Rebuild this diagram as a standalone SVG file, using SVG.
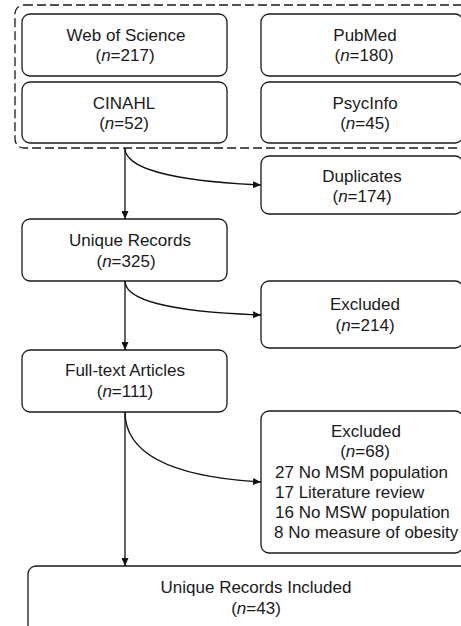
<svg xmlns="http://www.w3.org/2000/svg" width="461" height="626" viewBox="0 0 461 626">
<defs>
<marker id="ah" viewBox="0 0 10 10" refX="10" refY="5" markerWidth="8" markerHeight="7" markerUnits="userSpaceOnUse" orient="auto" preserveAspectRatio="none">
<path d="M0,0 L10,5 L0,10 z" fill="#111"/>
</marker>
<style>
.box{fill:#fff;stroke:#1a1a1a;stroke-width:1.3}
.grp{fill:none;stroke:#1a1a1a;stroke-width:1.3;stroke-dasharray:9,4}
.t{font-family:"Liberation Sans",Arial,sans-serif;font-size:17px;fill:#1a1a1a;text-anchor:middle}
.l{font-family:"Liberation Sans",Arial,sans-serif;font-size:17px;fill:#1a1a1a}
.e{fill:none;stroke:#111;stroke-width:1.3}
</style>
</defs>
<rect width="461" height="626" fill="#fff"/>
<g id="sources">
<rect class="grp" x="15" y="5" width="470" height="143" rx="9"/>
</g>
<g id="wos">
<rect class="box" x="22" y="14" width="205" height="62" rx="8"/>
<text class="t" x="126" y="41">Web of Science</text>
<text class="t" x="125" y="61">(<tspan font-style="italic">n</tspan>=217)</text>
</g>
<g id="pubmed">
<rect class="box" x="261" y="14" width="202" height="62" rx="8"/>
<text class="t" x="365" y="41">PubMed</text>
<text class="t" x="364" y="61">(<tspan font-style="italic">n</tspan>=180)</text>
</g>
<g id="cinahl">
<rect class="box" x="22" y="82" width="205" height="61" rx="8"/>
<text class="t" x="124" y="109">CINAHL</text>
<text class="t" x="124" y="129">(<tspan font-style="italic">n</tspan>=52)</text>
</g>
<g id="psycinfo">
<rect class="box" x="261" y="82" width="202" height="61" rx="8"/>
<text class="t" x="365" y="109">PsycInfo</text>
<text class="t" x="365" y="129">(<tspan font-style="italic">n</tspan>=45)</text>
</g>
<g id="duplicates">
<rect class="box" x="261" y="156" width="202" height="58" rx="8"/>
<text class="t" x="362" y="182">Duplicates</text>
<text class="t" x="362" y="202">(<tspan font-style="italic">n</tspan>=174)</text>
</g>
<g id="unique">
<rect class="box" x="22" y="219" width="205" height="62" rx="8"/>
<text class="t" x="130" y="246">Unique Records</text>
<text class="t" x="126" y="267">(<tspan font-style="italic">n</tspan>=325)</text>
</g>
<g id="excluded1">
<rect class="box" x="261" y="281" width="202" height="67" rx="8"/>
<text class="t" x="365" y="310">Excluded</text>
<text class="t" x="365" y="331">(<tspan font-style="italic">n</tspan>=214)</text>
</g>
<g id="fulltext">
<rect class="box" x="22" y="350" width="205" height="62" rx="8"/>
<text class="t" x="125" y="376">Full-text Articles</text>
<text class="t" x="125" y="397">(<tspan font-style="italic">n</tspan>=111)</text>
</g>
<g id="excluded2">
<rect class="box" x="261" y="411" width="202" height="142" rx="8"/>
<text class="t" x="366" y="437">Excluded</text>
<text class="t" x="365" y="457">(<tspan font-style="italic">n</tspan>=68)</text>
<text class="l" x="275" y="478">27 No MSM population</text>
<text class="l" x="275" y="498">17 Literature review</text>
<text class="l" x="275" y="518">16 No MSW population</text>
<text class="l" x="274" y="538">8 No measure of obesity</text>
</g>
<g id="included">
<rect class="box" x="28" y="566" width="456" height="80" rx="8"/>
<text class="t" x="256" y="593">Unique Records Included</text>
<text class="t" x="256" y="614">(<tspan font-style="italic">n</tspan>=43)</text>
</g>
<g id="connectors">
<path class="e" d="M125,148 L125,219" marker-end="url(#ah)"/>
<path class="e" d="M125,148 C125,168 170,181 261,185" marker-end="url(#ah)"/>
<path class="e" d="M125,281 L125,350" marker-end="url(#ah)"/>
<path class="e" d="M125,281 C125,300 170,312 261,315" marker-end="url(#ah)"/>
<path class="e" d="M125,412 L125,566" marker-end="url(#ah)"/>
<path class="e" d="M125,412 C125,455 175,477 261,482" marker-end="url(#ah)"/>
</g>
</svg>
